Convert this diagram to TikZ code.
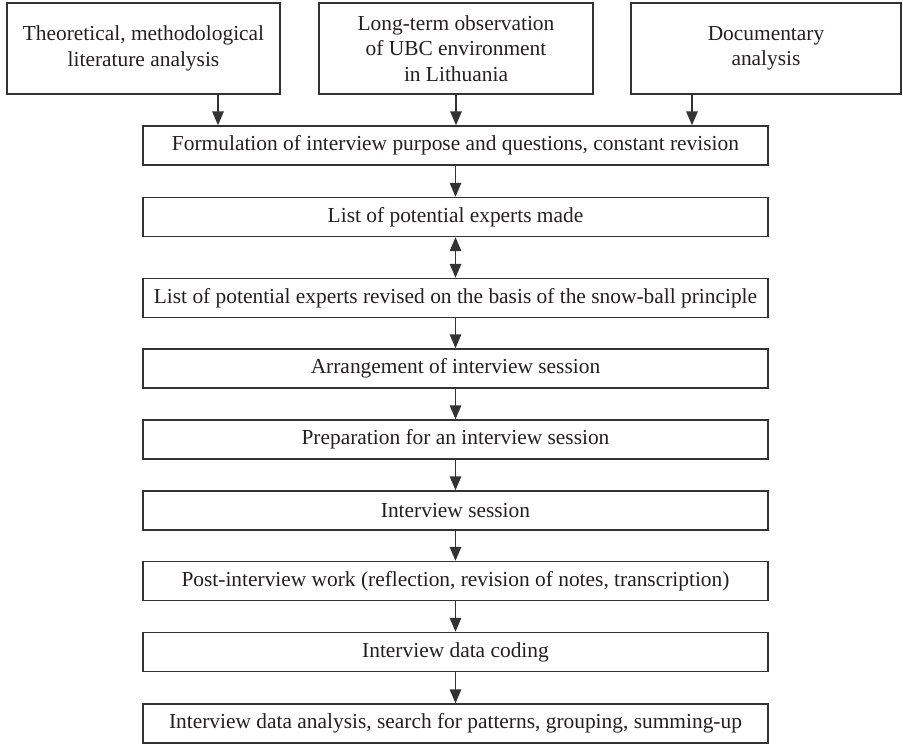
\documentclass[tikz,border=0pt]{standalone}
\usepackage{fontspec}
\setmainfont{Liberation Serif}
\usetikzlibrary{arrows.meta}
\definecolor{edge}{HTML}{333333}
\definecolor{ink}{HTML}{231F20}
\tikzset{
  box/.style={draw=edge, line width=1.4pt, rectangle, inner sep=0pt,
    text=ink, align=center, font=\fontsize{21.4}{25.5}\selectfont},
  topbox/.style={box, minimum height=91pt},
  stepbox/.style={box, minimum width=625pt, minimum height=39pt},
  flow/.style={draw=edge, line width=1.4pt,
    -{Triangle[length=14pt,width=11.5pt]}},
  twoway/.style={draw=edge, line width=1.4pt,
    {Triangle[length=14pt,width=11.5pt]}-{Triangle[length=14pt,width=11.5pt]}}
}
\begin{document}
\begin{tikzpicture}[x=1pt,y=-1pt]
\useasboundingbox (0,0) rectangle (903,744);

% sources
\node[topbox, minimum width=273pt] (lit) at (143.5,48.5)
  {Theoretical, methodological\\literature analysis};
\node[topbox, minimum width=274pt] (obs) at (456,48.5)
  {Long-term observation\\of UBC environment\\in Lithuania};
\node[topbox, minimum width=270pt] (doc) at (766,48.5)
  {Documentary\\analysis};

% main sequence
\node[stepbox] (s1) at (455.5,145.5) {Formulation of interview purpose and questions, constant revision};
\node[stepbox] (s2) at (455.5,217) {List of potential experts made};
\node[stepbox] (s3) at (455.5,298) {List of potential experts revised on the basis of the snow-ball principle};
\node[stepbox] (s4) at (455.5,368.5) {Arrangement of interview session};
\node[stepbox] (s5) at (455.5,439.5) {Preparation for an interview session};
\node[stepbox] (s6) at (455.5,510.5) {Interview session};
\node[stepbox] (s7) at (455.5,581) {Post-interview work (reflection, revision of notes, transcription)};
\node[stepbox] (s8) at (455.5,652) {Interview data coding};
\node[stepbox] (s9) at (455.5,723.5) {Interview data analysis, search for patterns, grouping, summing-up};

% connectors from the sources
\coordinate (litout) at ([xshift=74.5pt]lit.south);
\coordinate (docout) at ([xshift=-74pt]doc.south);
\draw[flow] (litout) -- (litout |- s1.north);
\draw[flow] (obs.south) -- (obs.south |- s1.north);
\draw[flow] (docout) -- (docout |- s1.north);

% connectors between steps
\draw[flow] (s1) -- (s2);
\draw[twoway] (s2) -- (s3);
\draw[flow] (s3) -- (s4);
\draw[flow] (s4) -- (s5);
\draw[flow] (s5) -- (s6);
\draw[flow] (s6) -- (s7);
\draw[flow] (s7) -- (s8);
\draw[flow] (s8) -- (s9);
\end{tikzpicture}
\end{document}
